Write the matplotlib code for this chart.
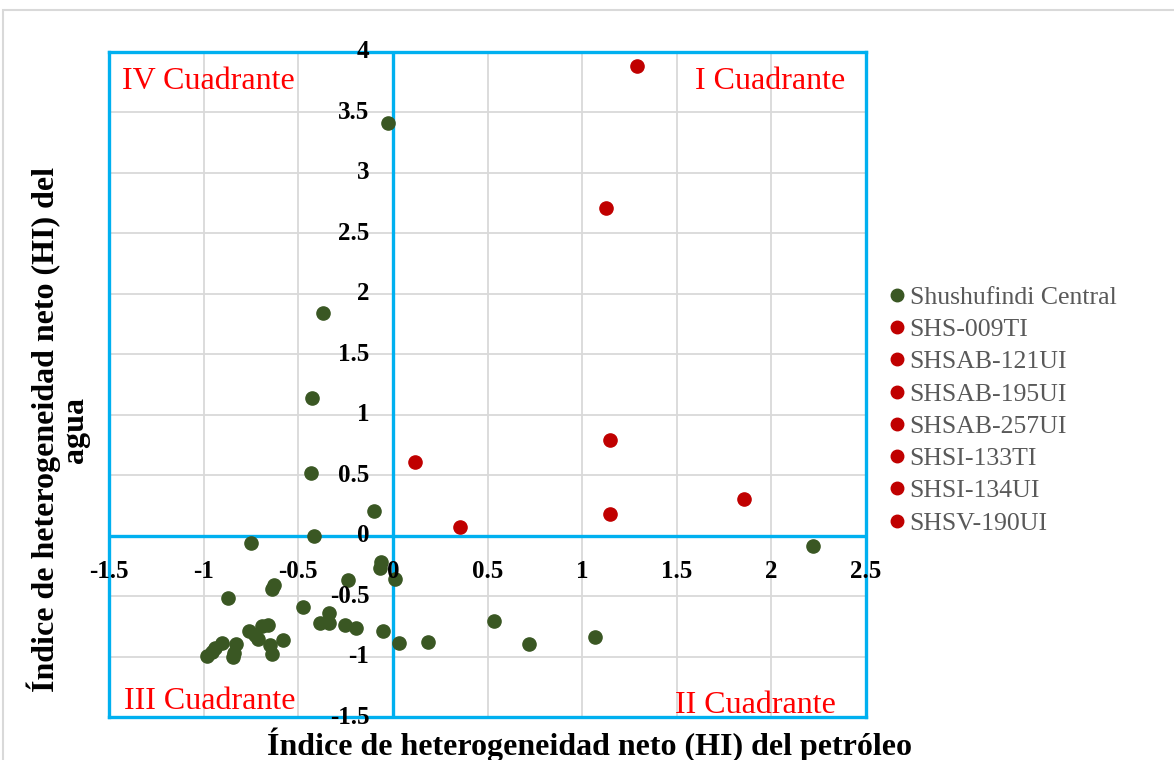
import matplotlib
matplotlib.use("Agg")
import matplotlib.pyplot as plt
from matplotlib.patches import Rectangle

plt.rcParams["font.family"] = ["Liberation Serif", "DejaVu Serif"]

# Shushufindi Central (campo completo)
central_x = [-0.026, -0.368, -0.426, -0.435, -0.100, -0.417, -0.749, -0.063, -0.069, 0.011,
             -0.236, -0.627, -0.641, -0.873, -0.474, -0.338, -0.386, -0.338, -0.254, -0.196,
             -0.051, 0.033, 0.187, -0.659, -0.694, -0.759, -0.729, -0.712, -0.580, -0.650,
             -0.641, -0.905, -0.831, -0.840, -0.847, -0.941, -0.958, -0.981, 0.534, 0.719,
             1.067, 2.221]
central_y = [3.413, 1.839, 1.136, 0.520, 0.206, 0.000, -0.060, -0.216, -0.270, -0.360,
             -0.367, -0.409, -0.444, -0.519, -0.588, -0.638, -0.726, -0.720, -0.739, -0.767,
             -0.789, -0.886, -0.877, -0.739, -0.748, -0.789, -0.822, -0.858, -0.864, -0.905,
             -0.980, -0.886, -0.897, -0.974, -1.000, -0.932, -0.960, -0.996, -0.706, -0.899,
             -0.841, -0.086]

# pozos candidatos
wells = ["SHS-009TI", "SHSAB-121UI", "SHSAB-195UI", "SHSAB-257UI",
         "SHSI-133TI", "SHSI-134UI", "SHSV-190UI"]
wells_x = [1.291, 1.125, 1.147, 0.116, 1.853, 1.145, 0.357]
wells_y = [3.884, 2.707, 0.790, 0.611, 0.305, 0.179, 0.074]

x_ticks = [-1.5, -1, -0.5, 0, 0.5, 1, 1.5, 2, 2.5]
y_ticks = [4, 3.5, 3, 2.5, 2, 1.5, 1, 0.5, 0, -0.5, -1, -1.5]

quadrants = [("IV Cuadrante", -1.5, 4), ("I Cuadrante", 2.5, 4),
             ("III Cuadrante", -1.5, -1.5), ("II Cuadrante", 2.5, -1.5)]

BLUE = "#00B0F0"
GREEN = "#3A5723"
RED = "#C00000"


def fmt(v):
    return "{:g}".format(v)


fig = plt.figure(figsize=(11.74, 7.6), dpi=100)
fig.patches.append(Rectangle((3 / 1174, -0.1), 1.2, (750 + 76) / 760, transform=fig.transFigure,
                             fill=False, edgecolor="#D9D9D9", linewidth=1.5))
ax = fig.add_axes([109 / 1174, 43 / 760, 757 / 1174, 665 / 760])
ax.set_xlim(-1.5, 2.5)
ax.set_ylim(-1.5, 4)
ax.set_xticks(x_ticks)
ax.set_yticks(y_ticks)
ax.tick_params(length=0, labelbottom=False, labelleft=False)
ax.grid(True, color="#D9D9D9", linewidth=1.3, zorder=0)
ax.set_axisbelow(True)
for s in ax.spines.values():
    s.set_color(BLUE)
    s.set_linewidth(2.4)
    s.set_zorder(3)
ax.axhline(0, color=BLUE, linewidth=2.4, zorder=2)
ax.axvline(0, color=BLUE, linewidth=2.4, zorder=2)

# etiquetas de los ejes junto a las lineas de cero
for v in x_ticks:
    ax.annotate(fmt(v), (v, 0), xytext=(0, -26), textcoords="offset points",
                ha="center", va="center", fontsize=18, fontweight="bold",
                annotation_clip=False, zorder=7)
for v in y_ticks:
    ax.annotate(fmt(v), (0, v), xytext=(-17, 0), textcoords="offset points",
                ha="right", va="center", fontsize=18, fontweight="bold",
                annotation_clip=False, zorder=7)

ax.plot(central_x, central_y, linestyle="None", marker="o", markersize=9.5,
        color=GREEN, label="Shushufindi Central", zorder=4)
for i in range(len(wells)):
    ax.plot(wells_x[i], wells_y[i], linestyle="None", marker="o", markersize=9.5,
            color=RED, label=wells[i], zorder=5)

# rotulos de cuadrantes
offs = {"IV Cuadrante": (9, -21, "left", "center"), "I Cuadrante": (-15, -21, "right", "center"),
        "III Cuadrante": (11, 11, "left", "center"), "II Cuadrante": (-22, 8, "right", "center")}
for name, qx, qy in quadrants:
    dx, dy, ha, va = offs[name]
    ax.annotate(name, (qx, qy), xytext=(dx, dy), textcoords="offset points",
                ha=ha, va=va, fontsize=23, color="#FF0000", zorder=6)

leg = ax.legend(loc="upper left", bbox_to_anchor=(889 / 1174, 1 - 286 / 760),
                bbox_transform=fig.transFigure, frameon=False, fontsize=18.5,
                handlelength=0.6, handletextpad=0.2, labelspacing=0.36,
                borderaxespad=0, borderpad=0)
for t in leg.get_texts():
    t.set_color("#595959")
for h in leg.legend_handles:
    h.set_markersize(9)

fig.text(590 / 1174, 1 - 745 / 760, "Índice de heterogeneidad neto (HI) del petróleo",
         ha="center", va="center", fontsize=23, fontweight="bold")
fig.text(58 / 1174, 1 - 430 / 760, "Índice de heterogeneidad neto (HI) del\nagua",
         ha="center", va="center", rotation=90, fontsize=23, fontweight="bold",
         multialignment="center", linespacing=1.0)

fig.savefig("out.png", dpi=100)
